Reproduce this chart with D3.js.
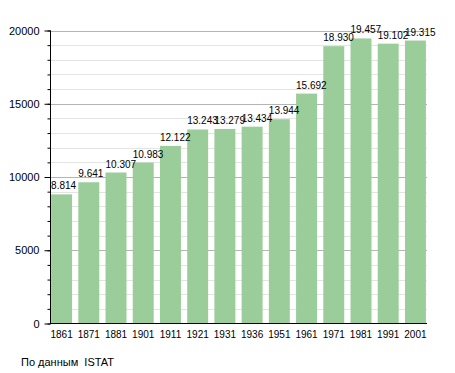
<!DOCTYPE html>
<html><head><meta charset="utf-8">
<script src="https://cdn.jsdelivr.net/npm/d3@7"></script>
<style>body{margin:0;background:#fff}svg{display:block;font-family:"Liberation Sans",Arial,sans-serif}</style>
</head><body>
<script>
const years = ["1861","1871","1881","1901","1911","1921","1931","1936","1951","1961","1971","1981","1991","2001"];
const population = [8814,9641,10307,10983,12122,13243,13279,13434,13944,15692,18930,19457,19102,19315];
const labels = ["8.814","9.641","10.307","10.983","12.122","13.243","13.279","13.434","13.944","15.692","18.930","19.457","19.102","19.315"];
const majorTicks = [0,5000,10000,15000,20000];
const minorTicks = d3.range(0, 20001, 1000);
const source = "По данным  ISTAT";

const W = 455, H = 373;
const svg = d3.select("body").append("svg").attr("width", W).attr("height", H);
const x = d3.scaleBand().domain(years).range([50, 427]).paddingInner(0.23).paddingOuter(0.04);
const y = d3.scaleLinear().domain([0, 20000]).range([323.5, 30.5]);

// minor gridlines
svg.append("g").selectAll("line").data(minorTicks.filter(v => v % 5000 !== 0)).join("line")
  .attr("x1", 50).attr("x2", 427).attr("y1", d => Math.round(y(d)) + 0.5).attr("y2", d => Math.round(y(d)) + 0.5)
  .attr("stroke", "#e4e4e4");
// major gridlines
svg.append("g").selectAll("line").data(majorTicks.filter(v => v > 0)).join("line")
  .attr("x1", 50).attr("x2", 427).attr("y1", d => Math.round(y(d)) + 0.5).attr("y2", d => Math.round(y(d)) + 0.5)
  .attr("stroke", "#b4b4b4");

// bars
svg.append("g").selectAll("rect").data(population).join("rect")
  .attr("x", (d, i) => x(years[i])).attr("width", x.bandwidth())
  .attr("y", d => y(d)).attr("height", d => y(0) - y(d))
  .attr("fill", "#9acd9a");

// value labels
svg.append("g").selectAll("text").data(population).join("text")
  .attr("x", (d, i) => x(years[i])).attr("y", d => y(d) - 5)
  .attr("font-size", 10).attr("fill", "#000")
  .text((d, i) => labels[i]);

// y axis
const yAxisMinor = d3.axisLeft(y).tickValues(minorTicks).tickSize(3).tickFormat("");
svg.append("g").attr("transform", "translate(50.5,0)").call(yAxisMinor)
  .call(g => g.select(".domain").remove());
const yAxis = d3.axisLeft(y).tickValues(majorTicks).tickSize(6).tickPadding(5).tickFormat(d3.format("d"));
svg.append("g").attr("transform", "translate(50.5,0)").call(yAxis)
  .call(g => g.selectAll("text").attr("font-size", 11).attr("font-family", "Liberation Sans, Arial, sans-serif"))
  .call(g => g.select(".domain").attr("d", `M0,${y(20000)}V${y(0)}`));

// x axis
const xAxis = d3.axisBottom(x).tickSize(0).tickPadding(7);
svg.append("g").attr("transform", `translate(0,${y(0)})`).call(xAxis)
  .call(g => g.selectAll("text").attr("font-size", 10).attr("font-family", "Liberation Sans, Arial, sans-serif"))
  .call(g => g.select(".domain").attr("d", "M50,0H427"));

svg.append("text").attr("x", 21).attr("y", 366).attr("font-size", 11).attr("xml:space", "preserve")
  .style("white-space", "pre").text(source);
</script>
</body></html>
